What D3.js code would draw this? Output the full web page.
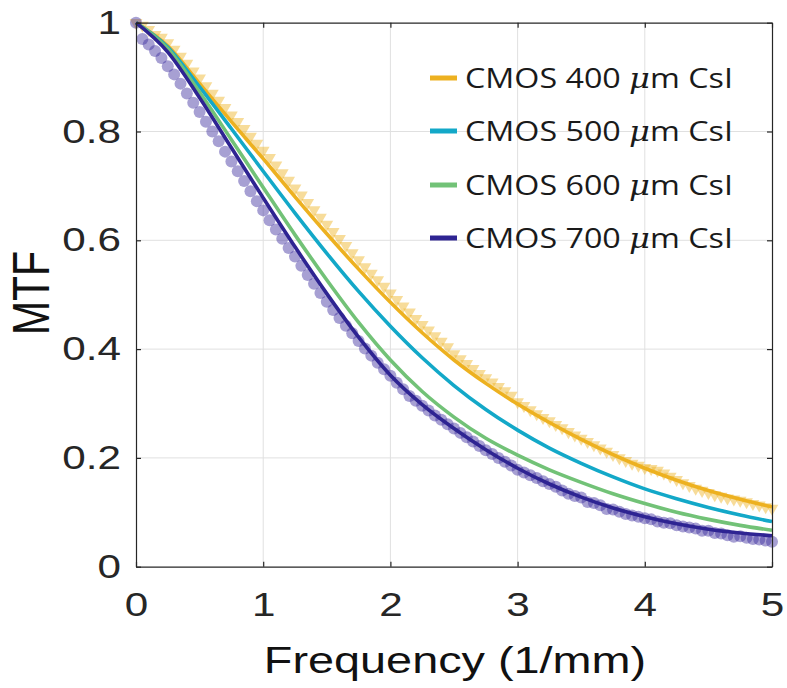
<!DOCTYPE html>
<html lang="en">
<head>
<meta charset="UTF-8">
<title>MTF</title>
<script src="https://cdn.jsdelivr.net/npm/d3@7"></script>
<style>
    body { margin: 0; background: #fff; }
    svg { display: block; }
    .tick text { font-family: Arial, "Liberation Sans", sans-serif; fill: #262626; }
</style>
</head>
<body>
<div id="container"></div>
<script>
    /*------------------- data --------------------*/
    // fitted curves, read every 0.25 1/mm
    const freqLine = [0, 0.25, 0.5, 0.75, 1, 1.25, 1.5, 1.75, 2, 2.25, 2.5, 2.75, 3, 3.25, 3.5, 3.75, 4, 4.25, 4.5, 4.75, 5]
    const mtf400 = [1.0, 0.957, 0.888, 0.818, 0.75, 0.68, 0.612, 0.547, 0.486, 0.43, 0.38, 0.337, 0.299, 0.265, 0.234, 0.206, 0.181, 0.159, 0.14, 0.124, 0.11]
    const mtf500 = [1.0, 0.955, 0.882, 0.805, 0.727, 0.65, 0.576, 0.506, 0.442, 0.384, 0.333, 0.289, 0.251, 0.218, 0.19, 0.165, 0.143, 0.125, 0.109, 0.095, 0.083]
    const mtf600 = [1.0, 0.952, 0.872, 0.785, 0.697, 0.61, 0.527, 0.449, 0.38, 0.322, 0.275, 0.236, 0.205, 0.178, 0.155, 0.134, 0.116, 0.1, 0.087, 0.076, 0.067]
    const mtf700 = [1.0, 0.946, 0.862, 0.77, 0.678, 0.588, 0.502, 0.422, 0.352, 0.298, 0.254, 0.215, 0.181, 0.152, 0.128, 0.108, 0.092, 0.079, 0.069, 0.062, 0.057]

    // measured points (400 and 700 um), one every 0.05 1/mm
    const markerStep = 0.05
    const meas400 = [1.0, 0.995, 0.987, 0.978, 0.973, 0.963, 0.951, 0.938, 0.925, 0.911,
        0.898, 0.884, 0.87, 0.857, 0.844, 0.83, 0.818, 0.805, 0.791, 0.778,
        0.765, 0.752, 0.738, 0.724, 0.71, 0.696, 0.683, 0.669, 0.656, 0.642,
        0.629, 0.616, 0.603, 0.59, 0.577, 0.564, 0.551, 0.539, 0.527, 0.515,
        0.503, 0.491, 0.479, 0.468, 0.456, 0.445, 0.435, 0.424, 0.414, 0.404,
        0.391, 0.382, 0.373, 0.364, 0.355, 0.347, 0.339, 0.331, 0.323, 0.315,
        0.303, 0.296, 0.288, 0.281, 0.274, 0.268, 0.261, 0.255, 0.248, 0.242,
        0.236, 0.23, 0.224, 0.218, 0.212, 0.206, 0.2, 0.195, 0.19, 0.186,
        0.182, 0.18, 0.177, 0.172, 0.166, 0.16, 0.154, 0.149, 0.144, 0.14,
        0.136, 0.132, 0.129, 0.126, 0.124, 0.122, 0.119, 0.116, 0.113, 0.11, 0.107]
    const meas700 = [1.0, 0.97, 0.96, 0.948, 0.935, 0.92, 0.905, 0.888, 0.87, 0.853,
        0.836, 0.818, 0.8, 0.782, 0.763, 0.745, 0.727, 0.709, 0.69, 0.672,
        0.655, 0.637, 0.62, 0.603, 0.586, 0.57, 0.553, 0.536, 0.52, 0.503,
        0.487, 0.472, 0.457, 0.443, 0.429, 0.415, 0.401, 0.388, 0.375, 0.363,
        0.351, 0.338, 0.326, 0.314, 0.305, 0.296, 0.287, 0.278, 0.27, 0.262,
        0.254, 0.246, 0.238, 0.23, 0.222, 0.214, 0.207, 0.2, 0.193, 0.186,
        0.178, 0.173, 0.168, 0.163, 0.157, 0.152, 0.147, 0.14, 0.134, 0.13,
        0.127, 0.119, 0.117, 0.113, 0.106, 0.105, 0.101, 0.097, 0.094, 0.092,
        0.089, 0.087, 0.083, 0.081, 0.08, 0.076, 0.074, 0.072, 0.07, 0.066,
        0.066, 0.062, 0.061, 0.058, 0.055, 0.056, 0.053, 0.051, 0.05, 0.048, 0.046]

    const thickness = ["400", "500", "600", "700"]
    const colors = ["#EDB120", "#13A8C8", "#72C277", "#2E2492"]
    const xTickValues = [0, 1, 2, 3, 4, 5]
    const yTickValues = [0, 0.2, 0.4, 0.6, 0.8, 1]

    /*------------------- setup --------------------*/
    const width = 787, height = 688
    const sx = 1.28 // the source figure is stretched sideways

    const svg = d3.select("#container").append("svg")
        .attr("width", width)
        .attr("height", height)

    const x = d3.scaleLinear().domain([0, 5]).range([136, 772])
    const y = d3.scaleLinear().domain([0, 1]).range([566.7, 22.7])

    // grid
    svg.append("g").selectAll("line")
        .data(xTickValues.slice(1, -1))
        .enter().append("line")
        .attr("x1", d => x(d)).attr("x2", d => x(d))
        .attr("y1", y(0)).attr("y2", y(1))
        .attr("stroke", "#e0e0e0").attr("stroke-width", 1)
    svg.append("g").selectAll("line")
        .data(yTickValues.slice(1, -1))
        .enter().append("line")
        .attr("x1", x(0)).attr("x2", x(5))
        .attr("y1", d => y(d)).attr("y2", d => y(d))
        .attr("stroke", "#e0e0e0").attr("stroke-width", 1)

    /*------------------- marks --------------------*/
    svg.append("clipPath").attr("id", "clip")
        .append("rect").attr("x", x(0) - 8).attr("y", 0).attr("width", x(5) - x(0) + 16).attr("height", y(0) + 1)

    const plot = svg.append("g").attr("clip-path", "url(#clip)")

    plot.append("g").selectAll("path")
        .data(meas400)
        .enter().append("path")
        .attr("d", d3.symbol().type(d3.symbolTriangle).size(70))
        .attr("transform", (d, i) => `translate(${x(i * markerStep)},${y(d)}) rotate(180)`)
        .attr("fill", colors[0])
        .attr("fill-opacity", 0.45)

    plot.append("g").selectAll("circle")
        .data(meas700)
        .enter().append("circle")
        .attr("cx", (d, i) => x(i * markerStep))
        .attr("cy", d => y(d))
        .attr("r", 6)
        .attr("fill", "#3B2C9E")
        .attr("fill-opacity", 0.45)

    const line = d3.line()
        .x((d, i) => x(freqLine[i]))
        .y(d => y(d))
        .curve(d3.curveMonotoneX)

    const series = [mtf400, mtf500, mtf600, mtf700]
    plot.append("g").selectAll("path")
        .data(series)
        .enter().append("path")
        .attr("d", d => line(d))
        .attr("fill", "none")
        .attr("stroke", (d, i) => colors[i])
        .attr("stroke-width", 3.6)

    /*------------------- axes --------------------*/
    const axisColor = "#262626"
    const gx = svg.append("g")
        .attr("transform", `translate(0,${y(0)})`)
        .call(d3.axisBottom(x).tickValues(xTickValues).tickFormat(d3.format("d"))
            .tickSizeInner(-5).tickSizeOuter(0).tickPadding(26))
    const gxTop = svg.append("g")
        .attr("transform", `translate(0,${y(1)})`)
        .call(d3.axisTop(x).tickValues(xTickValues).tickFormat("")
            .tickSizeInner(-5).tickSizeOuter(0))
    const gy = svg.append("g")
        .attr("transform", `translate(${x(0)},0)`)
        .call(d3.axisLeft(y).tickValues(yTickValues).tickFormat(d => d === 0 || d === 1 ? d : d3.format(".1f")(d))
            .tickSizeInner(-5).tickSizeOuter(0))
    const gyRight = svg.append("g")
        .attr("transform", `translate(${x(5)},0)`)
        .call(d3.axisRight(y).tickValues(yTickValues).tickFormat("")
            .tickSizeInner(-5).tickSizeOuter(0))

    for (const g of [gx, gxTop, gy, gyRight]) {
        g.select(".domain").attr("stroke", axisColor).attr("stroke-width", 1.2)
        g.selectAll(".tick line").attr("stroke", axisColor).attr("stroke-width", 1.2)
    }

    gx.selectAll(".tick text")
        .attr("font-size", 33)
        .attr("transform", `scale(${sx},1)`)
    gy.selectAll(".tick text")
        .attr("font-size", 33)
        .attr("x", -15 / sx)
        .attr("transform", `scale(${sx},1)`)

    // axis titles
    svg.append("text")
        .attr("transform", `translate(455,673) scale(1.3,1)`)
        .attr("text-anchor", "middle")
        .attr("font-family", "Arial, 'Liberation Sans', sans-serif")
        .attr("font-size", 36)
        .attr("fill", "#111")
        .text("Frequency (1/mm)")

    svg.append("text")
        .attr("transform", `translate(49,293) scale(${sx},1) rotate(-90)`)
        .attr("text-anchor", "middle")
        .attr("font-family", "Arial, 'Liberation Sans', sans-serif")
        .attr("font-size", 41)
        .attr("fill", "#111")
        .text("MTF")

    /*------------------- legend --------------------*/
    const legend = svg.append("g")
    const rowY = [78, 131, 185, 238]
    thickness.forEach((t, i) => {
        legend.append("line")
            .attr("x1", 430).attr("x2", 457)
            .attr("y1", rowY[i]).attr("y2", rowY[i])
            .attr("stroke", colors[i]).attr("stroke-width", 5)
        const txt = legend.append("text")
            .attr("x", 465).attr("y", rowY[i] + 10)
            .attr("font-family", "'Open Sans', 'Noto Sans', sans-serif")
            .attr("font-size", 28)
            .attr("fill", "#1a1a1a")
            .attr("textLength", 268)
            .attr("lengthAdjust", "spacingAndGlyphs")
        txt.append("tspan").text(`CMOS ${t} `)
        txt.append("tspan").attr("font-style", "italic").attr("font-family", "'DejaVu Serif', serif").text("\u03bc")
        txt.append("tspan").text("m CsI")
    })
</script>
</body>
</html>
